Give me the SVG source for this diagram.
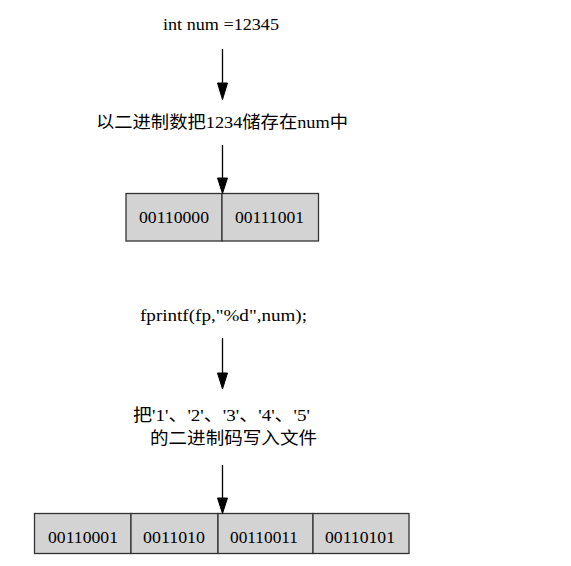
<svg xmlns="http://www.w3.org/2000/svg" width="571" height="566" viewBox="0 0 571 566">
<style>
.t{font-family:"Liberation Serif","Noto Sans CJK SC",serif;font-size:16px;fill:#000}
.c{font-family:"Liberation Serif","Noto Sans CJK SC",serif;font-size:17px;fill:#000}
.cell{fill:#d3d3d3;stroke:#333;stroke-width:1.3}
.edge{stroke:#000;stroke-width:1.3;fill:none}
.head{fill:#000;stroke:#000;stroke-width:1}
</style>
<rect width="571" height="566" fill="#fff"/>
<g id="n1"><text class="t" x="163" y="30" textLength="116" lengthAdjust="spacingAndGlyphs">int num =12345</text></g>
<g id="n2"><text class="c" x="96" y="128" textLength="252" lengthAdjust="spacingAndGlyphs">以二进制数把1234储存在num中</text></g>
<g id="n3">
<rect class="cell" x="126" y="193.5" width="96" height="47.5"/>
<rect class="cell" x="222" y="193.5" width="96.5" height="47.5"/>
<text class="t" x="139" y="223" textLength="70" lengthAdjust="spacingAndGlyphs">00110000</text>
<text class="t" x="235" y="223" textLength="69" lengthAdjust="spacingAndGlyphs">00111001</text>
</g>
<g id="n4"><text class="t" x="140" y="321" textLength="167" lengthAdjust="spacingAndGlyphs">fprintf(fp,"%d",num);</text></g>
<g id="n5">
<text class="c" x="133" y="421" textLength="177" lengthAdjust="spacingAndGlyphs">把'1'、'2'、'3'、'4'、'5'</text>
<text class="c" x="150" y="444" textLength="167" lengthAdjust="spacingAndGlyphs">的二进制码写入文件</text>
</g>
<g id="n6">
<rect class="cell" x="34.5" y="513.5" width="96.5" height="40"/>
<rect class="cell" x="131" y="513.5" width="87" height="40"/>
<rect class="cell" x="218" y="513.5" width="95" height="40"/>
<rect class="cell" x="313" y="513.5" width="96" height="40"/>
<text class="t" x="48" y="543" textLength="70" lengthAdjust="spacingAndGlyphs">00110001</text>
<text class="t" x="143" y="543" textLength="62" lengthAdjust="spacingAndGlyphs">0011010</text>
<text class="t" x="230" y="543" textLength="68" lengthAdjust="spacingAndGlyphs">00110011</text>
<text class="t" x="325" y="543" textLength="70" lengthAdjust="spacingAndGlyphs">00110101</text>
</g>
<g id="connectors">
<path class="edge" d="M222.5 49V84"/>
<polygon class="head" points="217.5,83 227.5,83 222.5,99.5"/>
<path class="edge" d="M222.5 145V179"/>
<polygon class="head" points="217.5,178 227.5,178 222.5,193.5"/>
<path class="edge" d="M222.5 338V374"/>
<polygon class="head" points="217.5,373 227.5,373 222.5,389"/>
<path class="edge" d="M222.5 465V499"/>
<polygon class="head" points="217.5,498 227.5,498 222.5,513.5"/>
</g>
</svg>
